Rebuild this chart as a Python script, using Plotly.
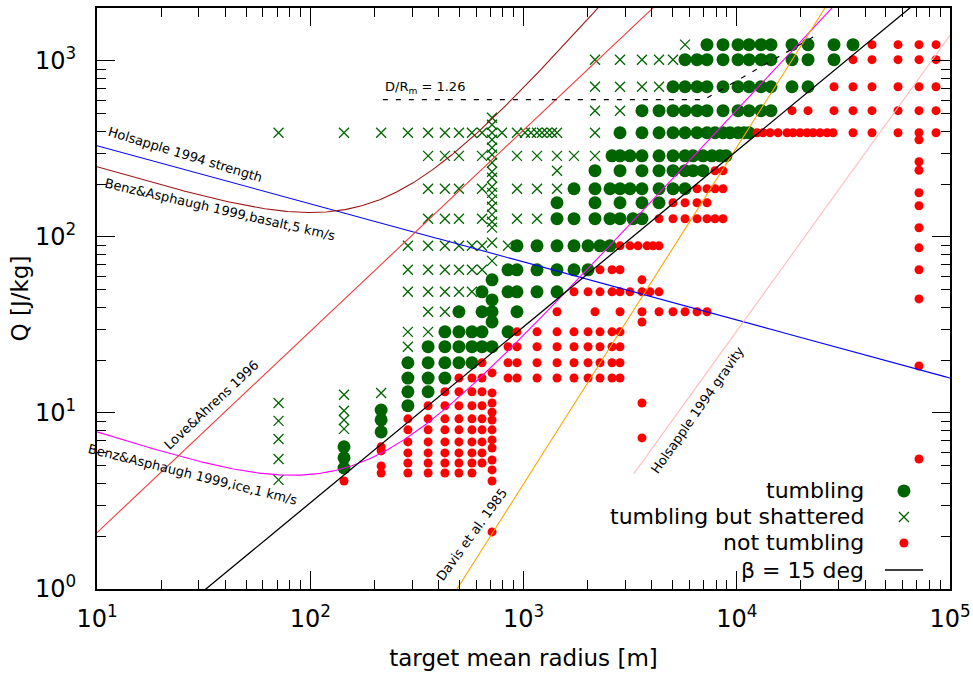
import numpy as np
import plotly.graph_objects as go

# ---------------- data ----------------
# Each row: (Q [J/kg], list of target mean radii [m])
tumbling_rows = [
    (1238, [7252, 8621, 10140, 11418, 12993, 14473, 18162, 21587, 28580, 35090]),
    (1017, [5721, 6512, 7252, 8621, 10140, 11418, 12993, 14473, 18162, 21587, 28580]),
    (714, [5024, 5721, 6512, 7252, 8621, 10140, 11418, 12993, 14473, 18162, 21587]),
    (522, [3594, 4320, 5024, 5721, 6512, 7252, 8621, 10140, 11418, 12993, 14473]),
    (391, [2835, 3594, 4320, 5024, 5721, 6512, 7252, 7907, 8621, 9298, 10140, 10815, 11418]),
    (289, [2600, 2835, 3158, 3594, 4320, 5024, 5721, 6236, 6946, 7656, 8347, 8905]),
    (238, [2164, 2835, 3594, 4320, 5024, 5721, 6236, 6946]),
    (188, [1725, 2164, 2544, 2835, 3158, 3594, 4320, 5024, 5721]),
    (156.5, [1436, 2164, 2835, 3594, 4320]),
    (127, [1436, 1725, 2164, 2544, 2835, 3262, 3594]),
    (89.1, [932, 1157, 1436, 1725, 2007, 2284, 2544]),
    (65.1, [846, 932, 1157, 1436, 1725, 2007]),
    (57.1, [712]),
    (48.8, [639, 846, 932, 1157, 1436]),
    (43.9, [712]),
    (37.6, [498, 639, 712, 932]),
    (32.9, [712]),
    (28.9, [428, 498, 573, 639, 846]),
    (23.8, [357, 428, 498, 573, 639, 712]),
    (19.3, [287, 357, 428, 498, 573]),
    (15.8, [287, 357, 428]),
    (13.2, [287, 357]),
    (11.0, [287]),
    (10.4, [215]),
    (9.13, [215]),
    (7.81, [215]),
    (6.42, [144]),
    (5.56, [144]),
    (4.87, [144]),
]

shattered_rows = [
    (1238, [5721]),
    (1017, [2164, 2835, 3594, 4320, 5024]),
    (714, [2164, 2835, 3594, 4320]),
    (522, [2164, 2835]),
    (476, [712]), (434, [712]),
    (391, [71, 144, 215, 287, 357, 428, 498, 573, 639, 712, 793, 932, 1016, 1084,
           1157, 1221, 1289, 1360, 1436, 2164]),
    (357, [712]), (321.5, [712]),
    (289, [357, 428, 498, 639, 932, 1157, 1436, 1725, 2164]),
    (293, [712]), (264, [712]),
    (238, [1436]), (235, [712]), (217, [712]),
    (188, [357, 428, 498, 639, 932, 1157, 1436]),
    (193, [712]), (178, [712]), (163, [712]), (148.5, [712]), (134, [712]),
    (127, [357, 428, 498, 639, 932, 1157]),
    (122, [712]), (113, [712]),
    (92.7, [712]),
    (89.1, [287, 357, 428, 498, 573, 639, 846]),
    (73.2, [712]),
    (65.1, [287, 357, 428, 498, 573, 639]),
    (48.8, [287, 357, 428, 498, 573]),
    (37.6, [357, 428]),
    (28.9, [287, 357]),
    (23.8, [287]),
    (13.0, [215]),
    (12.7, [144]), (10.3, [144]), (9.13, [144]), (8.12, [144]),
    (11.4, [71]), (9.02, [71]), (7.12, [71]), (5.48, [71]), (4.17, [71]),
]

not_tumbling_rows = [
    (1238, [43080, 57050, 71550, 86000]),
    (1017, [35090, 43080, 57050, 71550, 86000]),
    (714, [28580, 35090, 43080, 57050, 71550, 86000]),
    (522, [18162, 21587, 28580, 35090, 43080, 57050, 71550, 86000]),
    (391, [12445, 13277, 14318, 15614, 17205, 18360, 19804, 21355, 22786, 24576,
           26500, 28280, 35090, 43080, 57050, 71550, 86000]),
    (357, [71550]), (267.6, [71550]), (239.5, [71550]), (178.4, [71550]),
    (150.4, [71550]), (112.8, [71550]), (86.8, [71550]), (44.5, [71550]),
    (18.5, [71550]), (5.48, [71550]),
    (238, [7907, 8621]),
    (188, [6512, 7252, 7907, 8621]),
    (156.5, [5024, 5721, 6512, 7252]),
    (127, [4320, 5024, 5721, 6512, 7252, 7907, 8621]),
    (89.1, [2835, 3158, 3443, 3795, 4049, 4320]),
    (65.1, [2284, 2600, 2835, 71550]),
    (57.1, [3594]),
    (48.8, [1725, 2007, 2284, 2600, 2835, 3158, 3594, 3920, 4320]),
    (37.6, [1436, 2164, 2835, 3594, 4320, 5024, 5721, 6512, 7252]),
    (32.9, [3594]),
    (28.9, [932, 1157, 1436, 1725, 2007, 2284, 2600, 2835]),
    (23.8, [846, 932, 1157, 1436, 1725, 2007, 2284, 2600, 2835]),
    (19.3, [639, 846, 932, 1157, 1436, 1725, 2007, 2284, 2600, 2835]),
    (16.9, [712]),
    (15.8, [498, 573, 639, 846, 932, 1157, 1436, 1725, 2007, 2284, 2600, 2835]),
    (13.2, [428, 498, 573, 639]),
    (13.0, [712]),
    (11.4, [712, 3594]),
    (11.0, [357, 428, 498, 573, 639]),
    (10.1, [712]),
    (9.26, [287, 357, 428, 498, 573, 639]),
    (9.13, [712]),
    (8.02, [287, 357, 428, 498, 573, 639, 712]),
    (7.22, [3594]),
    (7.03, [712]),
    (6.85, [287, 357, 428, 498, 573, 639]),
    (6.42, [215]),
    (6.33, [712]),
    (6.09, [215]),
    (5.93, [287, 357, 428, 498, 573, 639]),
    (5.41, [712]),
    (5.20, [287, 357, 428, 498, 573, 639]),
    (5.00, [215]),
    (4.75, [712]),
    (4.56, [215, 287, 357, 428, 498, 573]),
    (4.11, [144, 712]),
    (2.11, [712]),
]

# model curves (Q in J/kg, R in m)
strength_Q10, strength_exp = 330.0, -0.33                  # Holsapple 1994 strength
basalt_A, basalt_a, basalt_B, basalt_b = 572.0, -0.36, 0.0548, 1.36   # Benz&Asphaug basalt
ice_A, ice_a, ice_B, ice_b = 19.01, -0.39, 0.003314, 1.30             # Benz&Asphaug ice
love_Q10, love_exp = 2.09, 1.1435                           # Love&Ahrens 1996
davis_R1, davis_exp = 487.8, 1.913                          # Davis et al. 1985
grav_R0, grav_Q0, grav_exp = 3262.0, 4.45, 1.68             # Holsapple 1994 gravity
beta_R1 = 32.4                                              # beta = 15 deg: Q = R / beta_R1
dm_R = [219, 7021, 23790]                                   # D/Rm = 1.26 contour
dm_Q = [603, 603, 1411]

x_ticks = [10, 100, 1000, 10000, 100000]
x_ticktext = ["10<sup>1</sup>", "10<sup>2</sup>", "10<sup>3</sup>", "10<sup>4</sup>", "10<sup>5</sup>"]
y_ticks = [1, 10, 100, 1000]
y_ticktext = ["10<sup>0</sup>", "10<sup>1</sup>", "10<sup>2</sup>", "10<sup>3</sup>"]


def flatten(rows):
    R = [r for q, rs in rows for r in rs]
    Q = [q for q, rs in rows for _ in rs]
    return R, Q


FONT = "DejaVu Sans"
GREEN = "#006400"

fig = go.Figure()

tR, tQ = flatten(tumbling_rows)
sR, sQ = flatten(shattered_rows)
nR, nQ = flatten(not_tumbling_rows)

fig.add_trace(go.Scatter(x=tR, y=tQ, mode="markers", name="tumbling",
                         marker=dict(symbol="circle", size=13, color=GREEN)))
fig.add_trace(go.Scatter(x=sR, y=sQ, mode="markers", name="tumbling but shattered",
                         marker=dict(symbol="x-thin-open", size=10, color=GREEN,
                                     line=dict(width=1.3, color=GREEN))))
fig.add_trace(go.Scatter(x=nR, y=nQ, mode="markers", name="not tumbling",
                         marker=dict(symbol="circle", size=9, color="#ff0000")))

R = np.logspace(1, 5, 600)
curves = [
    (strength_Q10 * (R / 10) ** strength_exp, "#0000ff", R),
    (basalt_A * R ** basalt_a + basalt_B * R ** basalt_b, "#9b1414", R),
    (ice_A * R ** ice_a + ice_B * R ** ice_b, "#ff00ff", R),
    (love_Q10 * (R / 10) ** love_exp, "#f03c3c", R),
    ((R / davis_R1) ** davis_exp, "#ffa500", R),
]
for q, col, rr in curves:
    fig.add_trace(go.Scatter(x=rr, y=q, mode="lines", line=dict(color=col, width=1.1),
                             hoverinfo="skip"))
Rg = R[R >= grav_R0]
fig.add_trace(go.Scatter(x=Rg, y=grav_Q0 * (Rg / grav_R0) ** grav_exp, mode="lines",
                         line=dict(color="#ffbcbc", width=1.1)))
fig.add_trace(go.Scatter(x=R, y=R / beta_R1, mode="lines", line=dict(color="black", width=1.3)))
fig.add_trace(go.Scatter(x=dm_R, y=dm_Q, mode="lines",
                         line=dict(color="black", width=1.2, dash="5px,8px")))

# key glyphs (on an overlay 0..1 frame)
key_x = 0.946
key_rows = [0.1688, 0.124, 0.0792, 0.0327]
fig.add_trace(go.Scatter(x=[key_x], y=[key_rows[0]], xaxis="x2", yaxis="y2", mode="markers",
                         marker=dict(symbol="circle", size=13, color=GREEN)))
fig.add_trace(go.Scatter(x=[key_x], y=[key_rows[1]], xaxis="x2", yaxis="y2", mode="markers",
                         marker=dict(symbol="x-thin-open", size=10, color=GREEN,
                                     line=dict(width=1.3, color=GREEN))))
fig.add_trace(go.Scatter(x=[key_x], y=[key_rows[2]], xaxis="x2", yaxis="y2", mode="markers",
                         marker=dict(symbol="circle", size=9, color="#ff0000")))
fig.add_trace(go.Scatter(x=[0.9238, 0.9684], y=[key_rows[3]] * 2, xaxis="x2", yaxis="y2",
                         mode="lines", line=dict(color="black", width=1.3)))

key_texts = ["tumbling", "tumbling but shattered", "not tumbling", "β = 15 deg"]
annotations = []
for t, yy in zip(key_texts, key_rows):
    annotations.append(dict(text=t, x=0.9015, y=yy, xref="paper", yref="paper",
                            xanchor="right", yanchor="middle", showarrow=False,
                            font=dict(family=FONT, size=22, color="black")))

curve_labels = [
    ("Holsapple 1994 strength", 0.1032, 0.7475, 17),
    ("Benz&Asphaugh 1999,basalt,5 km/s", 0.1442, 0.6528, 13),
    ("Love&Ahrens 1996", 0.1348, 0.3169, -43),
    ("Benz&Asphaugh 1999,ice,1 km/s", 0.1125, 0.1963, 14),
    ("Davis et al. 1985", 0.4396, 0.0930, -54),
    ("Holsapple 1994 gravity", 0.7046, 0.3083, -55),
]
for t, xx, yy, ang in curve_labels:
    annotations.append(dict(text=t, x=xx, y=yy, xref="paper", yref="paper",
                            xanchor="center", yanchor="middle", textangle=ang,
                            showarrow=False, font=dict(family=FONT, size=13, color="black")))
annotations.append(dict(text="D/R<sub>m</sub> = 1.26", x=0.3353, y=0.8629, xref="paper",
                        yref="paper", xanchor="left", yanchor="middle", showarrow=False,
                        font=dict(family=FONT, size=13, color="black")))


def minor_vals(lo, hi):
    return [m * 10 ** e for e in range(lo, hi) for m in range(2, 10)]


axis_common = dict(type="log", showgrid=False, zeroline=False, showline=True, linewidth=2,
                   linecolor="black", mirror="allticks", ticks="inside", ticklen=18,
                   tickwidth=1, tickcolor="black", automargin=False,
                   tickfont=dict(family=FONT, size=24, color="black"))

fig.update_layout(
    width=973, height=674,
    margin=dict(l=97, r=23, t=8, b=85),
    paper_bgcolor="white", plot_bgcolor="white",
    showlegend=False,
    font=dict(family=FONT, color="black"),
    xaxis=dict(range=[1, 5], tickvals=x_ticks, ticktext=x_ticktext,
               minor=dict(tickvals=minor_vals(1, 5), ticks="inside", ticklen=9,
                          tickwidth=1, tickcolor="black", showgrid=False),
               ticklabelstandoff=7,
               title=dict(text="target mean radius [m]", font=dict(family=FONT, size=23),
                          standoff=18),
               **axis_common),
    yaxis=dict(range=[0, np.log10(2000)], tickvals=y_ticks, ticktext=y_ticktext,
               minor=dict(tickvals=minor_vals(0, 4), ticks="inside", ticklen=9,
                          tickwidth=1, tickcolor="black", showgrid=False),
               ticklabelstandoff=14,
               title=dict(text="Q [J/kg]", font=dict(family=FONT, size=23), standoff=0),
               **axis_common),
    xaxis2=dict(overlaying="x", range=[0, 1], visible=False, side="top", fixedrange=True),
    yaxis2=dict(overlaying="y", range=[0, 1], visible=False, side="right", fixedrange=True),
    annotations=annotations,
)

fig.write_html("out.html")
